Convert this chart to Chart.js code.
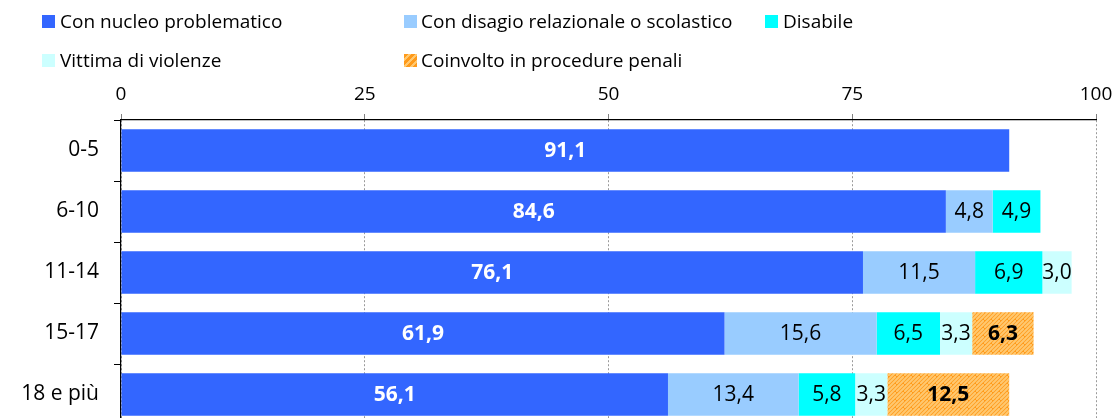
<!DOCTYPE html>
<html>
<head>
<meta charset="utf-8">
<script src="https://cdn.jsdelivr.net/npm/chart.js@4.4.1/dist/chart.umd.min.js"></script>
<style>
  html, body { margin: 0; padding: 0; background: #fff; overflow: hidden; width: 1116px; height: 418px; }
  #wrap { position: relative; width: 1116px; height: 430px; }
  #legend { position: absolute; left: 0; top: 0; width: 1116px; height: 80px; font-family: "Open Sans", Lato, sans-serif; font-size: 19px; color: #000; }
</style>
</head>
<body>
<div id="wrap">
  <canvas id="c" width="1116" height="430"></canvas>
  <div id="legend"></div>
</div>
<script>
const categories = ["0-5", "6-10", "11-14", "15-17", "18 e più"];
const seriesNames = [
  "Con nucleo problematico",
  "Con disagio relazionale o scolastico",
  "Disabile",
  "Vittima di violenze",
  "Coinvolto in procedure penali"
];
const nucleo   = [91.1, 84.6, 76.1, 61.9, 56.1];
const disagio  = [null, 4.8, 11.5, 15.6, 13.4];
const disabile = [null, 4.9, 6.9, 6.5, 5.8];
const vittima  = [null, null, 3.0, 3.3, 3.3];
const penali   = [null, null, null, 6.3, 12.5];
const xTicks   = [0, 25, 50, 75, 100];

const FONT = "'Open Sans', Lato, sans-serif";

function hatch() {
  const s = 8;
  const p = document.createElement('canvas');
  p.width = s; p.height = s;
  const g = p.getContext('2d');
  g.fillStyle = '#FF9A1A';
  g.fillRect(0, 0, s, s);
  g.strokeStyle = '#FFC870';
  g.lineWidth = 2;
  g.beginPath();
  g.moveTo(-1, s + 1); g.lineTo(s + 1, -1);
  g.moveTo(-1, s / 2 + 1); g.lineTo(s / 2 + 1, -1);
  g.moveTo(s / 2 - 1, s + 1); g.lineTo(s + 1, s / 2 - 1);
  g.stroke();
  return g.createPattern(p, 'repeat');
}

const ctx = document.getElementById('c').getContext('2d');
const hatchPattern = hatch();

const colors = ['#3366FF', '#99CCFF', '#00FFFF', '#CCFFFF', hatchPattern];
const legendColors = ['#3366FF', '#99CCFF', '#00FFFF', '#CCFFFF', 'repeating-linear-gradient(135deg,#FF9A1A 0 3px,#FFC870 3px 5px)'];
const valueArrays = [nucleo, disagio, disabile, vittima, penali];
const labelStyles = [
  { color: '#FFFFFF', weight: 'bold' },
  { color: '#000000', weight: 'normal' },
  { color: '#000000', weight: 'normal' },
  { color: '#000000', weight: 'normal' },
  { color: '#000000', weight: 'bold' }
];

// HTML legend
const legendPos = [
  { box: 42, txt: 60, y: 10 },
  { box: 404, txt: 421, y: 10 },
  { box: 765, txt: 783, y: 10 },
  { box: 42, txt: 60, y: 49 },
  { box: 404, txt: 421, y: 49 }
];
const legendEl = document.getElementById('legend');
seriesNames.forEach((n, i) => {
  const p = legendPos[i];
  const box = document.createElement('div');
  box.style.cssText = `position:absolute;left:${p.box}px;top:${p.y + 5}px;width:13px;height:13px;background:${legendColors[i]};`;
  const t = document.createElement('div');
  t.style.cssText = `position:absolute;left:${p.txt}px;top:${p.y}px;line-height:22px;white-space:nowrap;`;
  t.textContent = n;
  legendEl.appendChild(box);
  legendEl.appendChild(t);
});

const valueLabels = {
  id: 'valueLabels',
  afterDatasetsDraw(chart) {
    const c = chart.ctx;
    c.save();
    c.textAlign = 'center';
    c.textBaseline = 'middle';
    chart.data.datasets.forEach((ds, di) => {
      const meta = chart.getDatasetMeta(di);
      const st = labelStyles[di];
      meta.data.forEach((el, i) => {
        const v = ds.data[i];
        if (v === null || v === undefined) return;
        const x = (el.x + el.base) / 2;
        c.font = `${st.weight} 21px ${FONT}`;
        c.fillStyle = st.color;
        c.fillText(v.toFixed(1).replace('.', ','), x, el.y + 1);
      });
    });
    c.restore();
  }
};

new Chart(ctx, {
  type: 'bar',
  data: {
    labels: categories,
    datasets: valueArrays.map((arr, i) => ({
      label: seriesNames[i],
      data: arr,
      backgroundColor: colors[i],
      borderWidth: 0,
      barPercentage: 0.7,
      categoryPercentage: 1.0
    }))
  },
  options: {
    indexAxis: 'y',
    responsive: false,
    animation: false,
    layout: { padding: { left: 0, right: 20, top: 0, bottom: 5 } },
    plugins: { legend: { display: false }, tooltip: { enabled: false } },
    scales: {
      x: {
        position: 'top',
        stacked: true,
        min: 0, max: 100,
        afterBuildTicks(scale) { scale.ticks = xTicks.map(v => ({ value: v })); },
        afterFit(scale) {
          scale.height = 120;
          scale.paddingLeft = 0;
          scale.paddingRight = 0;
        },
        ticks: {
          font: { family: FONT, size: 19 },
          color: '#000',
          padding: 8,
          maxRotation: 0
        },
        grid: {
          color: '#9a9a9a',
          lineWidth: 1,
          tickLength: 6,
          tickColor: '#808080',
          drawTicks: true
        },
        border: { display: true, color: '#000', width: 1.2, dash: [2, 2] }
      },
      y: {
        stacked: true,
        afterFit(scale) {
          scale.width = 121;
          scale.paddingTop = 0;
          scale.paddingBottom = 0;
        },
        ticks: {
          font: { family: FONT, size: 21 },
          color: '#000',
          padding: 15
        },
        grid: {
          display: true,
          offset: true,
          drawOnChartArea: false,
          tickLength: 7,
          color: '#000'
        },
        border: { display: true, color: '#000', width: 1.2 }
      }
    }
  },
  plugins: [valueLabels]
});
</script>
</body>
</html>
